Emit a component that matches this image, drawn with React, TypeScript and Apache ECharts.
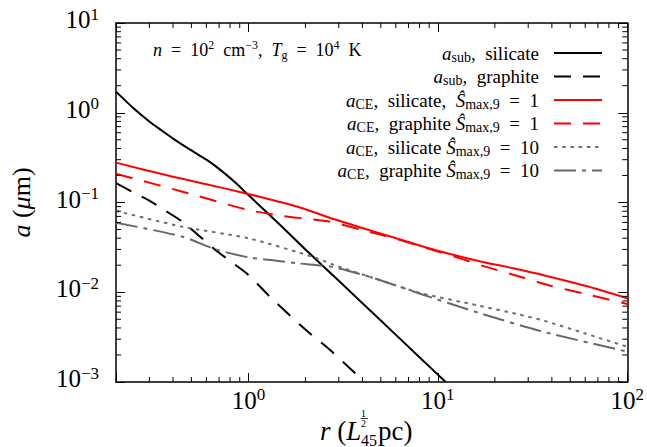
import React, { useEffect, useRef } from 'react';
import * as echarts from 'echarts';

const X_MIN = 0.2;
const X_MAX = 100;
const Y_MIN = 1e-3;
const Y_MAX = 10;

const xMinorTicks = [0.3, 0.4, 0.5, 0.6, 0.7, 0.8, 0.9, 2, 3, 4, 5, 6, 7, 8, 9, 20, 30, 40, 50, 60, 70, 80, 90];
const yMinorTicks = [
  0.002, 0.003, 0.004, 0.005, 0.006, 0.007, 0.008, 0.009,
  0.02, 0.03, 0.04, 0.05, 0.06, 0.07, 0.08, 0.09,
  0.2, 0.3, 0.4, 0.5, 0.6, 0.7, 0.8, 0.9,
  2, 3, 4, 5, 6, 7, 8, 9,
];

// a_sub, silicate
const asubSilX = [0.2, 0.25, 0.3, 0.35, 0.4, 0.5, 0.6, 0.7, 0.85, 1, 1.5, 2, 3, 5, 8, 11];
const asubSilY = [1.72, 1.1, 0.8, 0.63, 0.515, 0.38, 0.3, 0.237, 0.168, 0.121, 0.054, 0.03, 0.0134, 0.00484, 0.00189, 0.001];
// a_sub, graphite
const asubGraX = [0.2, 0.25, 0.3, 0.36, 0.449, 0.55, 0.67, 0.8, 1, 1.3, 2, 2.7, 3.51, 4.1];
const asubGraY = [0.164, 0.128, 0.105, 0.0822, 0.061, 0.0423, 0.0296, 0.0223, 0.0156, 0.0089, 0.00384, 0.00227, 0.00136, 0.00101];
// a_CE, silicate, S=1
const aceSil1X = [0.2, 0.367, 0.6, 0.96, 1.4, 1.82, 2.84, 4, 6.03, 10, 16.4, 25, 36.6, 60, 100];
const aceSil1Y = [0.278, 0.202, 0.16, 0.127, 0.104, 0.0898, 0.065, 0.052, 0.0399, 0.029, 0.0223, 0.0185, 0.0154, 0.0118, 0.00857];
// a_CE, graphite, S=1
const aceGra1X = [0.2, 0.449, 1, 1.49, 2, 2.7, 4, 6, 10, 14, 17.1, 25, 38.9, 60, 100];
const aceGra1Y = [0.209, 0.132, 0.0824, 0.0713, 0.066, 0.061, 0.0493, 0.0395, 0.0285, 0.0228, 0.0198, 0.0157, 0.0119, 0.0096, 0.0074];
// a_CE, silicate, S=10
const aceSil10X = [0.2, 0.449, 1, 2.23, 2.84, 4.93, 7.98, 16.4, 26.4, 36.6, 60, 100];
const aceSil10Y = [0.0806, 0.0537, 0.0399, 0.0245, 0.0201, 0.0137, 0.0099, 0.0071, 0.0057, 0.0048, 0.00347, 0.00247];
// a_CE, graphite, S=10
const aceGra10X = [0.2, 0.449, 0.67, 1, 1.4, 1.82, 2.84, 4.93, 7.98, 16.4, 36.6, 100];
const aceGra10Y = [0.0596, 0.0416, 0.0301, 0.0245, 0.0225, 0.021, 0.019, 0.0137, 0.0097, 0.0059, 0.0036, 0.00218];

const seriesNames = [
  'a_sub, silicate',
  'a_sub, graphite',
  'a_CE, silicate, S_max,9 = 1',
  'a_CE, graphite S_max,9 = 1',
  'a_CE, silicate S_max,9 = 10',
  'a_CE, graphite S_max,9 = 10',
];
const EQ = '\u2002=\u2002';
const legendRich = [
  '{i|a}{s|sub}{r|,  silicate}',
  '{i|a}{s|sub}{r|,  graphite}',
  '{i|a}{s|CE}{r|,  silicate,  }{i|Ŝ}{s|max,9}{r|' + EQ + '1}',
  '{i|a}{s|CE}{r|,  graphite }{i|Ŝ}{s|max,9}{r|' + EQ + '1}',
  '{i|a}{s|CE}{r|,  silicate }{i|Ŝ}{s|max,9}{r|' + EQ + '10}',
  '{i|a}{s|CE}{r|,  graphite }{i|Ŝ}{s|max,9}{r|' + EQ + '10}',
];

const FONT = 'Liberation Serif';

function pairs(xs: number[], ys: number[]) {
  return xs.map((x, i) => [x, ys[i]]);
}

function tickFmt(v: number) {
  const e = Math.log10(v);
  const r = Math.round(e);
  if (Math.abs(e - r) > 1e-6) return '';
  return '{b|10}{s|' + (r < 0 ? '\u2212' + -r : String(r)) + '}';
}

export default function App() {
  const ref = useRef<HTMLDivElement>(null);
  useEffect(() => {
    const chart = echarts.init(ref.current!, null, { renderer: 'svg' });
    const tickRich = {
      b: { fontFamily: FONT, fontSize: 25, lineHeight: 28, color: '#000' },
      s: { fontFamily: FONT, fontSize: 17, lineHeight: 14, verticalAlign: 'top', color: '#000' },
    };
    const axisLine = { show: true, lineStyle: { color: '#000', width: 1.5 } };
    const axisTick = { show: true, inside: true, length: 9, lineStyle: { color: '#000', width: 1 } };
    const MINOR = 5;

    const lineDefs = [
      { color: '#000000', type: 'solid', width: 2 },
      { color: '#000000', type: [17, 12], width: 2 },
      { color: '#ff0000', type: 'solid', width: 2 },
      { color: '#ff0000', type: [17, 12], width: 2 },
      { color: '#707070', type: [3.5, 4.7], width: 2 },
      { color: '#686868', type: [22, 6, 4, 6], width: 2 },
    ];
    const datasets = [
      pairs(asubSilX, asubSilY),
      pairs(asubGraX, asubGraY),
      pairs(aceSil1X, aceSil1Y),
      pairs(aceGra1X, aceGra1Y),
      pairs(aceSil10X, aceSil10Y),
      pairs(aceGra10X, aceGra10Y),
    ];

    const lineSeries = datasets.map((d, i) => ({
      type: 'line',
      name: seriesNames[i],
      data: d,
      xAxisIndex: 0,
      yAxisIndex: 0,
      showSymbol: false,
      symbol: 'none',
      smooth: 0.25,
      color: lineDefs[i].color,
      lineStyle: { color: lineDefs[i].color, type: lineDefs[i].type, width: lineDefs[i].width },
      z: 3,
    }));

    const minorX = {
      type: 'custom',
      name: 'minorX',
      silent: true,
      xAxisIndex: 0,
      yAxisIndex: 0,
      z: 4,
      data: xMinorTicks.map((v) => [v, Y_MIN]),
      encode: { x: 0, y: 1 },
      renderItem: (_p: any, api: any) => {
        const v = api.value(0);
        const b = api.coord([v, Y_MIN]);
        const t = api.coord([v, Y_MAX]);
        return {
          type: 'group',
          children: [
            { type: 'line', shape: { x1: b[0], y1: b[1], x2: b[0], y2: b[1] - MINOR }, style: { stroke: '#000', lineWidth: 1 } },
            { type: 'line', shape: { x1: t[0], y1: t[1], x2: t[0], y2: t[1] + MINOR }, style: { stroke: '#000', lineWidth: 1 } },
          ],
        };
      },
    };
    const minorY = {
      type: 'custom',
      name: 'minorY',
      silent: true,
      xAxisIndex: 0,
      yAxisIndex: 0,
      z: 4,
      data: yMinorTicks.map((v) => [X_MIN, v]),
      encode: { x: 0, y: 1 },
      renderItem: (_p: any, api: any) => {
        const v = api.value(1);
        const l = api.coord([X_MIN, v]);
        const r = api.coord([X_MAX, v]);
        return {
          type: 'group',
          children: [
            { type: 'line', shape: { x1: l[0], y1: l[1], x2: l[0] + MINOR, y2: l[1] }, style: { stroke: '#000', lineWidth: 1 } },
            { type: 'line', shape: { x1: r[0], y1: r[1], x2: r[0] - MINOR, y2: r[1] }, style: { stroke: '#000', lineWidth: 1 } },
          ],
        };
      },
    };

    const txt = (x: number, y: number, text: string, size: number, italic = false, align = 'left') => ({
      type: 'text', x, y, silent: true,
      style: {
        text, fontFamily: FONT, fontSize: size, fontStyle: italic ? 'italic' : 'normal',
        fill: '#000', align, verticalAlign: 'middle',
      },
    });

    const option: any = {
      animation: false,
      backgroundColor: '#fff',
      textStyle: { fontFamily: FONT },
      grid: { left: 114, right: 17, top: 23, bottom: 65, containLabel: false },
      xAxis: [
        {
          type: 'log', logBase: 10, min: X_MIN, max: X_MAX, position: 'bottom', gridIndex: 0,
          axisLine, axisTick, splitLine: { show: false },
          axisLabel: { formatter: tickFmt, rich: tickRich, margin: 4, color: '#000', fontFamily: FONT, showMinLabel: true },
        },
        {
          type: 'log', logBase: 10, min: X_MIN, max: X_MAX, position: 'top', gridIndex: 0,
          axisLine, axisTick, splitLine: { show: false }, axisLabel: { show: false },
        },
      ],
      yAxis: [
        {
          type: 'log', logBase: 10, min: Y_MIN, max: Y_MAX, position: 'left', gridIndex: 0,
          axisLine, axisTick, splitLine: { show: false },
          axisLabel: { formatter: tickFmt, rich: tickRich, margin: 17, color: '#000', fontFamily: FONT, padding: [0, 0, 7, 0] },
          name: '{i|a} ({i|μ}m)',
          nameLocation: 'middle',
          nameGap: 82,
          nameRotate: 90,
          nameTextStyle: {
            fontFamily: FONT, fontSize: 26, color: '#000',
            rich: { i: { fontFamily: FONT, fontSize: 26, fontStyle: 'italic', color: '#000' } },
          },
        },
        {
          type: 'log', logBase: 10, min: Y_MIN, max: Y_MAX, position: 'right', gridIndex: 0,
          axisLine, axisTick, splitLine: { show: false }, axisLabel: { show: false },
        },
      ],
      legend: {
        data: seriesNames,
        orient: 'vertical',
        align: 'right',
        right: 44,
        top: 42,
        padding: 0,
        itemWidth: 48,
        itemHeight: 14,
        itemGap: 1.5,
        selectedMode: false,
        itemStyle: { opacity: 0 },
        formatter: (name: string) => legendRich[seriesNames.indexOf(name)],
        textStyle: {
          fontFamily: FONT, fontSize: 19, color: '#000', lineHeight: 22, padding: [0, 10, 0, 0],
          rich: {
            r: { fontFamily: FONT, fontSize: 19, lineHeight: 22, color: '#000' },
            i: { fontFamily: FONT, fontSize: 19, fontStyle: 'italic', lineHeight: 22, color: '#000' },
            s: { fontFamily: FONT, fontSize: 14, lineHeight: 12, verticalAlign: 'bottom', color: '#000' },
          },
        },
      },
      graphic: [
        {
          type: 'text', x: 153, y: 50, silent: true,
          style: {
            text: '{i|n}' + EQ + '10{sup|2}  cm{sup|\u22123},  {i|T}{sub|g}' + EQ + '10{sup|4}  K',
            fontFamily: FONT, fontSize: 18, fill: '#000', verticalAlign: 'middle', lineHeight: 22,
            rich: {
              i: { fontFamily: FONT, fontSize: 18, fontStyle: 'italic', fill: '#000', lineHeight: 22 },
              sup: { fontFamily: FONT, fontSize: 12, fill: '#000', lineHeight: 12, verticalAlign: 'top' },
              sub: { fontFamily: FONT, fontSize: 12, fill: '#000', lineHeight: 12, verticalAlign: 'bottom' },
            },
          },
        },
        // x-axis title: r (L^{1/2}_{45} pc)
        {
          type: 'text', x: 320, y: 431, silent: true,
          style: {
            text: '{i|r} ({i|L}', fontFamily: FONT, fontSize: 27, fill: '#000', verticalAlign: 'middle',
            rich: { i: { fontFamily: FONT, fontSize: 27, fontStyle: 'italic', fill: '#000' } },
          },
        },
        txt(361, 413.5, '1', 10),
        { type: 'line', silent: true, shape: { x1: 360.5, y1: 418.5, x2: 368, y2: 418.5 }, style: { stroke: '#000', lineWidth: 0.8 } },
        txt(361, 423.5, '2', 10),
        txt(361, 440, '45', 16),
        txt(378, 431, 'pc)', 27),
      ],
      series: [...lineSeries, minorX, minorY],
    };
    chart.setOption(option);
    return () => chart.dispose();
  }, []);
  return (
    <div
      ref={ref}
      style={{ position: 'fixed', left: 0, top: 0, width: 647, height: 447, background: '#fff' }}
    />
  );
}
